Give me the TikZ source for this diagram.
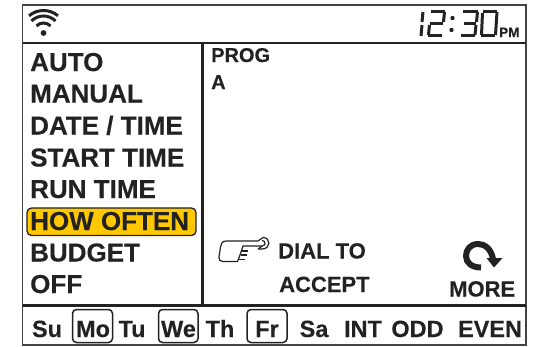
\documentclass[tikz,border=0pt]{standalone}
\usepackage{fontspec}
\setmainfont{Liberation Sans}[BoldFeatures={FakeBold=0.25}]
\definecolor{ink}{HTML}{222222}
\definecolor{hl}{HTML}{FFC800}
\tikzset{
 x=1pt,y=-1pt,
 menu/.style={anchor=base west,inner sep=0pt,font=\fontsize{26}{26}\selectfont\bfseries,text=ink},
 small/.style={anchor=base west,inner sep=0pt,font=\fontsize{20}{20}\selectfont\bfseries,text=ink},
 small2/.style={anchor=base west,inner sep=0pt,font=\fontsize{22}{22}\selectfont\bfseries,text=ink},
 day/.style={anchor=base,inner sep=0pt,font=\fontsize{23.5}{23.5}\selectfont\bfseries,text=ink},
 daybox/.style={draw=ink,line width=1.5pt,rounded corners=4pt},
 rule/.style={draw=ink,line width=2.2pt},
 seg/.style={draw=ink,line width=3pt,line cap=butt},
}
\begin{document}
\begin{tikzpicture}
\useasboundingbox (0,0) rectangle (533,346);
\fill[white] (0,0) rectangle (533,346);
\draw[draw=ink!85,line width=1.5pt] (22.5,5) rectangle (526,345);
\draw[rule] (23,43) -- (526,43);
\draw[rule] (23,305.5) -- (526,305.5);
\draw[rule] (202.5,43) -- (202.5,305);
% wifi
\fill[ink] (43.5,33) circle (2.9);
\draw[ink,line width=3pt] (43.5,33) ++(-135:10) arc[start angle=-135,end angle=-45,radius=10];
\draw[ink,line width=3pt] (43.5,33) ++(-135:17) arc[start angle=-135,end angle=-45,radius=17];
\draw[ink,line width=3pt] (43.5,33) ++(-130:22.5) arc[start angle=-130,end angle=-50,radius=22.5];
% clock
\begin{scope}[seg]
\draw (423,12) -- (422,22); \draw (422,25) -- (421,36);
\draw (431,11.5) -- (445,11.5); \draw (444.5,12) -- (443.5,22); \draw (430,23.5) -- (443,23.5); \draw (429.5,25) -- (428.5,35); \draw (428,35.5) -- (442,35.5);
\draw (463,11.5) -- (478,11.5); \draw (477.5,12) -- (476.5,22); \draw (464,23.5) -- (476,23.5); \draw (476,25) -- (475,35); \draw (461,35.5) -- (475,35.5);
\draw (483,11.5) -- (497,11.5); \draw (482.5,13) -- (481.5,35); \draw (497,12) -- (495.5,35); \draw (481,35.5) -- (495,35.5);
\end{scope}
\fill[ink] (452.5,18) circle (2.2) (451.5,30) circle (2.2);
\node[anchor=base west,inner sep=0pt,font=\fontsize{13.5}{13.5}\selectfont\bfseries,text=ink] (pm) at (499,37) {PM};
% menu
\node[menu] (auto) at (30,71) {AUTO};
\node[menu] (manual) at (30,102.5) {MANUAL};
\node[menu] (date) at (30,134.5) {DATE / TIME};
\node[menu] (start) at (30,166.5) {START TIME};
\node[menu] (run) at (30,198) {RUN TIME};
\draw[fill=hl,draw=ink,line width=1.3pt,rounded corners=4.5pt] (27,208) rectangle (196,235.5);
\node[menu] (how) at (30,230) {HOW OFTEN};
\node[menu] (budget) at (30,261.5) {BUDGET};
\node[menu] (off) at (30,293) {OFF};
% right
\node[small] (prog) at (211,62) {PROG};
\node[small] (a) at (211,89) {A};
\node[small2] (dial) at (278,258.5) {DIAL TO};
\node[small2] (accept) at (279,292) {ACCEPT};
\node[anchor=base west,inner sep=0pt,font=\fontsize{22}{22}\selectfont\bfseries,text=ink] (more) at (449,296.5) {MORE};
% hand
\begin{scope}[draw=ink,line width=1.2pt]
\draw (258,241) -- (226,241) .. controls (222,241) and (221,244) .. (220.5,247) -- (219,257) .. controls (218.5,260) and (220,261.5) .. (223,261.5) -- (238,261.5);
\draw (262,246) -- (243,246) -- (240,255) -- (237.5,261.5);
\draw (242,251) -- (248,251) (241,255) -- (247,255) (239,259.5) -- (245,259.5);
\draw (263,237.5) .. controls (271,237.5) and (271,249) .. (262,249) -- (258,249) (263,237.5) -- (258,241) (258,249) -- (262,246);
\draw (262,240.5) .. controls (266,240.5) and (266,246) .. (262,246);
\end{scope}
% arrow
\draw[ink,line width=6pt] (493,259) .. controls (491,248) and (484,244) .. (478,244) .. controls (470,244) and (466,250) .. (466,256) .. controls (466,263) and (472,267.5) .. (481,267.5);
\fill[ink] (486.5,258) -- (502.5,258) -- (494,267.5) -- cycle;
% days
\node[day] (su) at (47,337) {Su};
\draw[daybox] (72.5,309.5) rectangle (112.5,342.5);
\node[day] (mo) at (93,337) {Mo};
\node[day] (tu) at (132,337) {Tu};
\draw[daybox] (158.5,309.5) rectangle (198,342.5);
\node[day] (we) at (178.5,337) {We};
\node[day] (th) at (220,337) {Th};
\draw[daybox] (247,309.5) rectangle (287,342.5);
\node[day] (fr) at (267,337) {Fr};
\node[day] (sa) at (314,337) {Sa};
\node[day] (int) at (363,337) {INT};
\node[day] (odd) at (417.5,337) {ODD};
\node[day] (even) at (490,337) {EVEN};
\end{tikzpicture}
\end{document}
